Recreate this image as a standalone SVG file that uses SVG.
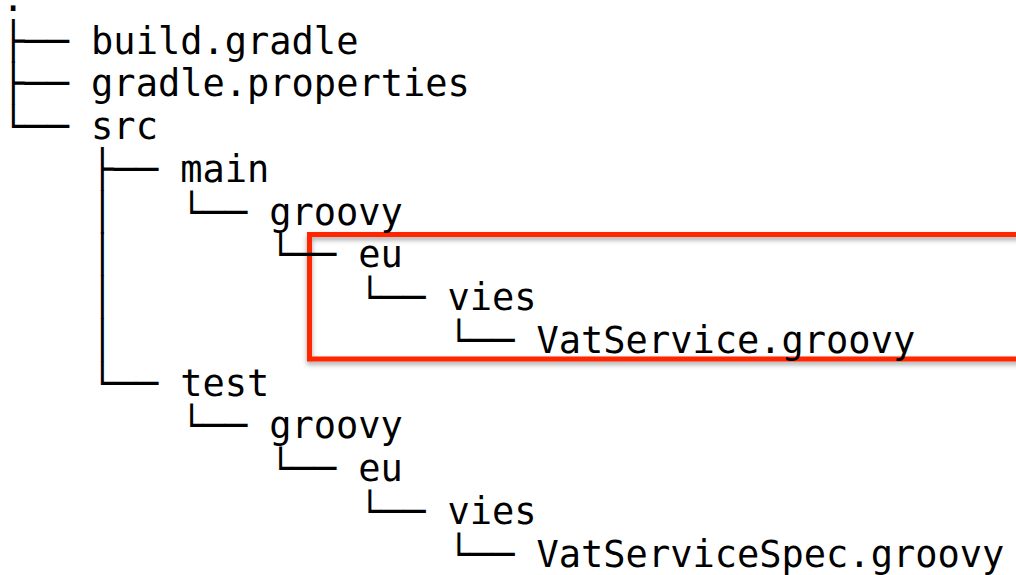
<svg xmlns="http://www.w3.org/2000/svg" width="1016" height="575" viewBox="0 0 1016 575">
<style>
text{font-family:"DejaVu Sans Mono","Liberation Mono",monospace;font-size:37px;fill:#000;}
.hl{fill:none;stroke:#ff2600;stroke-width:5;}
</style>
<defs>
<filter id="sh" x="-5%" y="-20%" width="110%" height="140%">
<feDropShadow dx="0" dy="3" stdDeviation="2.5" flood-color="#000" flood-opacity="0.35"/>
</filter>
</defs>
<rect width="1016" height="575" fill="#fff"/>
<rect id="highlight" class="hl" x="309.5" y="234.5" width="720" height="124.5" filter="url(#sh)"/>
<g id="connectors">
<text x="2" y="10.75" xml:space="preserve">.</text>
<text x="2" y="53.5" xml:space="preserve">├──</text>
<text x="2" y="96.25" xml:space="preserve">├──</text>
<text x="2" y="139" xml:space="preserve">└──</text>
<text x="2" y="181.75" xml:space="preserve">    ├──</text>
<text x="2" y="224.5" xml:space="preserve">    │   └──</text>
<text x="2" y="267.25" xml:space="preserve">    │       └──</text>
<text x="2" y="310" xml:space="preserve">    │           └──</text>
<text x="2" y="352.75" xml:space="preserve">    │               └──</text>
<text x="2" y="395.5" xml:space="preserve">    └──</text>
<text x="2" y="438.25" xml:space="preserve">        └──</text>
<text x="2" y="481" xml:space="preserve">            └──</text>
<text x="2" y="523.75" xml:space="preserve">                └──</text>
<text x="2" y="566.5" xml:space="preserve">                    └──</text>
</g>
<g id="build-gradle"><text x="91.1" y="53.5">build.gradle</text></g>
<g id="gradle-properties"><text x="91.1" y="96.25">gradle.properties</text></g>
<g id="src"><text x="91.1" y="139">src</text></g>
<g id="main"><text x="180.2" y="181.75">main</text></g>
<g id="main-groovy"><text x="269.2" y="224.5">groovy</text></g>
<g id="main-eu"><text x="358.3" y="267.25">eu</text></g>
<g id="main-vies"><text x="447.4" y="310">vies</text></g>
<g id="vatservice"><text x="536.5" y="352.75">VatService.groovy</text></g>
<g id="test"><text x="180.2" y="395.5">test</text></g>
<g id="test-groovy"><text x="269.2" y="438.25">groovy</text></g>
<g id="test-eu"><text x="358.3" y="481">eu</text></g>
<g id="test-vies"><text x="447.4" y="523.75">vies</text></g>
<g id="vatservicespec"><text x="536.5" y="566.5">VatServiceSpec.groovy</text></g>
</svg>
